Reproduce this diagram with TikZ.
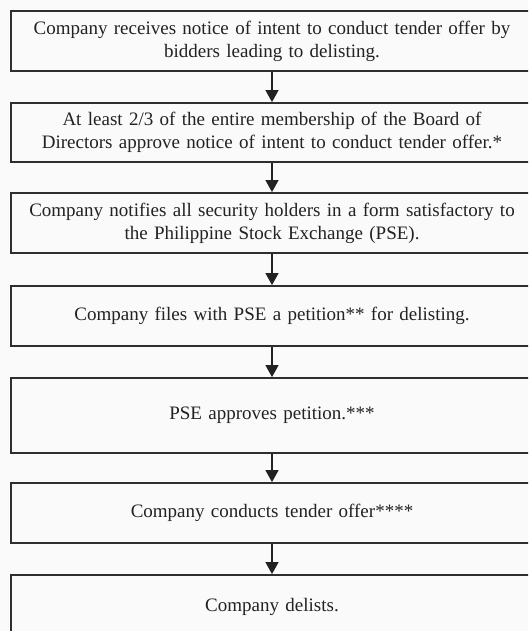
\documentclass[tikz,border=0pt]{standalone}
\usepackage{fontspec}
\setmainfont[WordSpace={0.6,0.5,0.5}]{Liberation Serif}
\usetikzlibrary{arrows.meta}
\definecolor{bg}{HTML}{FAFAFA}
\definecolor{edge}{HTML}{2E2E2E}
\definecolor{ink}{HTML}{222222}
\begin{document}
\begin{tikzpicture}[x=1pt,y=1pt,
  stepbox/.style={draw=edge, line width=1.8pt, fill=bg, minimum width=522pt, inner sep=0pt,
    text width=515pt, align=center, text=ink, font=\fontsize{19}{23}\selectfont},
  flow/.style={draw=ink, line width=1.2pt, -{Triangle[length=12pt,width=13pt]}}]
\useasboundingbox (0,0) rectangle (528,-631);
\clip (0,0) rectangle (528,-631);
\fill[bg] (0,0) rectangle (528,-631);
\node[stepbox, minimum height=60pt] (b1) at (272,-41) {Company receives notice of intent to conduct tender offer by\\bidders leading to delisting.};
\node[stepbox, minimum height=59pt] (b2) at (272,-132.5) {At least 2/3 of the entire membership of the Board of\\Directors approve notice of intent to conduct tender offer.*};
\node[stepbox, minimum height=60pt] (b3) at (272,-223) {Company notifies all security holders in a form satisfactory to\\the Philippine Stock Exchange (PSE).};
\node[stepbox, minimum height=60pt] (b4) at (272,-316) {Company files with PSE a petition** for delisting.};
\node[stepbox, minimum height=75pt] (b5) at (272,-415.5) {PSE approves petition.***};
\node[stepbox, minimum height=60pt] (b6) at (272,-513) {Company conducts tender offer****};
\node[stepbox, minimum height=64pt] (b7) at (272,-607) {Company delists.};
\draw[flow] (b1) -- (b2);
\draw[flow] (b2) -- (b3);
\draw[flow] (b3) -- (b4);
\draw[flow] (b4) -- (b5);
\draw[flow] (b5) -- (b6);
\draw[flow] (b6) -- (b7);
\end{tikzpicture}
\end{document}
